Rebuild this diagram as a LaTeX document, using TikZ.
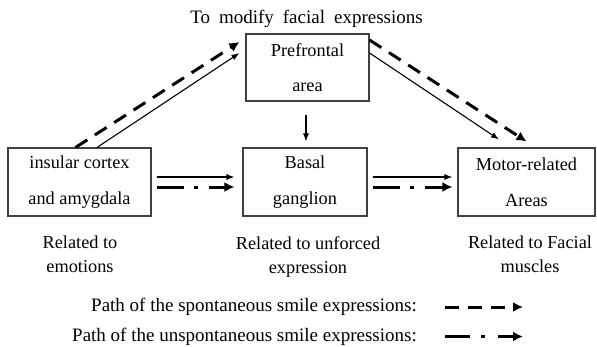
\documentclass[tikz,border=0pt]{standalone}
\usepackage{fontspec}
\setmainfont{Liberation Serif}
\usetikzlibrary{arrows.meta,calc}
\begin{document}
\begin{tikzpicture}[x=1pt,y=-1pt,
  box/.style={draw=black!75,line width=1.1pt,minimum height=67pt,inner sep=0pt,align=center,font=\fontsize{18.3}{35.5}\selectfont},
  lbl/.style={align=center,font=\fontsize{18.3}{24}\selectfont,inner sep=0pt,anchor=north},
  legtxt/.style={font=\fontsize{19}{24}\selectfont,inner sep=0pt,anchor=base east},
  thinarrow/.style={line width=1.1pt,-{Latex[length=8pt,width=6pt]}},
  spont/.style={line width=3pt,dash pattern=on 14pt off 9pt,-{Latex[length=10pt,width=10pt]}},
  unspont/.style={line width=3pt,dash pattern=on 27pt off 10pt on 4pt off 11pt,-{Latex[length=10pt,width=10pt]}},
]
\useasboundingbox (0,0) rectangle (597,346);
\node[font=\fontsize{19}{24}\selectfont,inner sep=0pt,anchor=base] (title) at (306.5,23) {\spaceskip=9pt\relax To modify facial expressions};
\node[box,minimum width=123pt] (pre) at (307.5,67.5) {Prefrontal\\area};
\node[box,minimum width=143pt,minimum height=68pt] (ins) at (79.5,182) {insular cortex\\and amygdala};
\node[box,minimum width=124pt,minimum height=68pt] (bas) at (305,182) {Basal\\ganglion};
\node[box,minimum width=137pt,minimum height=68pt] (mot) at (526.5,182) {Motor-related\\Areas};

\node[lbl] (l1) at (80,236) {Related to\\emotions};
\node[lbl] (l2) at (308,236) {Related to unforced\\expression};
\node[lbl] (l3) at (530,236) {Related to Facial\\muscles};

% insular -> prefrontal
\draw[spont] ([xshift=-4pt]ins.north) -- ([shift={(-6pt,25.5pt)}]pre.west);
\draw[thinarrow] ([xshift=17.5pt]ins.north) -- ([shift={(-6pt,14.5pt)}]pre.west);
% prefrontal -> motor
\draw[spont] ([yshift=27.5pt]pre.east) -- ([yshift=6pt]mot.north);
\draw[thinarrow] ([yshift=14.5pt]pre.east) -- ([shift={(-27.5pt,8pt)}]mot.north);
% prefrontal -> basal
\draw[thinarrow] ([shift={(-1.5pt,-13pt)}]pre.south) -- ([shift={(1pt,6pt)}]bas.north);
% insular -> basal
\draw[thinarrow] ([shift={(5pt,5pt)}]ins.east) -- ([shift={(-8pt,5pt)}]bas.west);
\draw[unspont] ([shift={(5pt,-5pt)}]ins.east) -- ([shift={(-8pt,-5pt)}]bas.west);
% basal -> motor
\draw[thinarrow] ([shift={(5pt,5pt)}]bas.east) -- ([shift={(-5pt,5pt)}]mot.west);
\draw[unspont] ([shift={(5pt,-5pt)}]bas.east) -- ([shift={(-5pt,-5pt)}]mot.west);

% legend
\node[legtxt] (lg1) at (417,311.5) {Path of the spontaneous smile expressions:};
\node[legtxt] (lg2) at (417,341) {Path of the unspontaneous smile expressions:};
\coordinate (a1s) at (445,307);
\coordinate (a1e) at (523,307);
\coordinate (a2s) at (445,336.5);
\coordinate (a2e) at (523,336.5);
\draw[spont] (a1s) -- (a1e);
\draw[line width=3pt,dash pattern=on 25pt off 11pt on 4pt off 13pt,-{Latex[length=10pt,width=10pt]}] (a2s) -- (a2e);
\end{tikzpicture}
\end{document}
